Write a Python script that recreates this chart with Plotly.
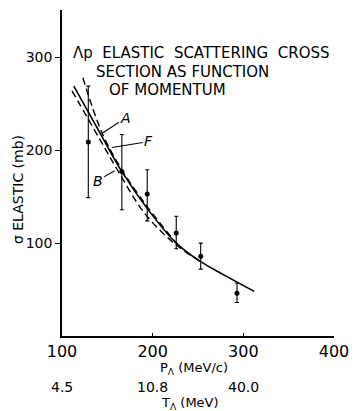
import plotly.graph_objects as go

# Data points (P_Lambda in MeV/c, sigma in mb)
p_data = [129, 166, 194, 226, 253, 293]
sigma_data = [209, 177, 153, 111, 86, 46]
err_plus = [60, 40, 26, 18, 14, 11]
err_minus = [60, 41, 29, 17, 14, 10]

# Theory curves
curve_F_x = [113, 140, 166, 195, 226, 253, 280, 312]
curve_F_y = [269, 222, 177, 136, 100, 80, 65, 48]
curve_A_x = [123, 144, 166, 195, 226]
curve_A_y = [278, 219, 179, 138, 100]
curve_B_x = [111, 141, 161, 192, 226, 253]
curve_B_y = [264, 213, 179, 131, 98, 80]

x_ticks = [100, 200, 300, 400]
y_ticks = [100, 200, 300]
t_tick_pos = [100, 200, 300]
t_tick_labels = ["4.5", "10.8", "40.0"]

FONT = "DejaVu Sans"
NB = "\u00a0"

fig = go.Figure()
fig.add_trace(go.Scatter(x=curve_F_x, y=curve_F_y, mode="lines", line=dict(color="black", width=1.6, shape="spline"), showlegend=False))
fig.add_trace(go.Scatter(x=curve_A_x, y=curve_A_y, mode="lines", line=dict(color="black", width=1.4, dash="7px,4px", shape="spline"), showlegend=False))
fig.add_trace(go.Scatter(x=curve_B_x, y=curve_B_y, mode="lines", line=dict(color="black", width=1.4, dash="7px,4px", shape="spline"), showlegend=False))
fig.add_trace(go.Scatter(
    x=p_data, y=sigma_data, mode="markers",
    marker=dict(color="black", size=5),
    error_y=dict(type="data", symmetric=False, array=err_plus, arrayminus=err_minus,
                 color="black", thickness=1.1, width=2),
    showlegend=False))

ann = []
title_lines = [("Λp" + NB * 2 + "ELASTIC" + NB * 2 + "SCATTERING" + NB * 2 + "CROSS", 71, 52.5),
               ("SECTION AS FUNCTION", 95, 71.5),
               ("OF MOMENTUM", 108, 90)]
for txt, px, py in title_lines:
    ann.append(dict(text=txt, xref="paper", yref="paper",
                    x=(px - 62) / 278.5, y=(336 - py) / 326,
                    xanchor="left", yanchor="middle", showarrow=False,
                    font=dict(family=FONT, size=15, color="black")))

# curve labels
for lab, xx, yy, ax, ay in [("A", 144, 218, 24, -16), ("F", 155, 203, 37, -6), ("B", 158, 178, -17, 10)]:
    ann.append(dict(text="<i>" + lab + "</i>", x=xx, y=yy, xref="x", yref="y",
                    showarrow=True, arrowhead=0, arrowwidth=1.1, arrowcolor="black",
                    ax=ax, ay=ay, font=dict(family=FONT, size=14, color="black")))

ann.append(dict(text="σ ELASTIC (mb)", xref="paper", yref="paper",
                x=(17 - 62) / 278.5, y=(336 - 190) / 326, textangle=-90,
                showarrow=False, xanchor="center", yanchor="middle",
                font=dict(family=FONT, size=14, color="black")))
ann.append(dict(text="P<sub>Λ</sub> (MeV/c)", xref="paper", yref="paper",
                x=(197 - 62) / 278.5, y=(336 - 368) / 326,
                showarrow=False, xanchor="center", yanchor="middle",
                font=dict(family=FONT, size=13, color="black")))
ann.append(dict(text="T<sub>Λ</sub> (MeV)", xref="paper", yref="paper",
                x=(193 - 62) / 278.5, y=(336 - 403) / 326,
                showarrow=False, xanchor="center", yanchor="middle",
                font=dict(family=FONT, size=13, color="black")))
for pos, lab in zip(t_tick_pos, t_tick_labels):
    ann.append(dict(text=lab, xref="x", yref="paper", x=pos, y=(336 - 387) / 326,
                    showarrow=False, xanchor="center", yanchor="middle",
                    font=dict(family=FONT, size=14, color="black")))

fig.update_layout(
    width=359, height=411,
    margin=dict(l=62, r=18.5, t=10, b=75),
    paper_bgcolor="white", plot_bgcolor="white",
    annotations=ann,
    xaxis=dict(range=[100, 400], tickvals=x_ticks, showgrid=False, zeroline=False,
               showline=True, linecolor="black", linewidth=1.5,
               ticks="inside", ticklen=3, tickcolor="black",
               tickfont=dict(family=FONT, size=16, color="black")),
    yaxis=dict(range=[0, 351], tickvals=y_ticks, showgrid=False, zeroline=False,
               showline=True, linecolor="black", linewidth=1.5,
               ticks="outside", ticklen=5, tickcolor="black",
               tickfont=dict(family=FONT, size=14, color="black")),
)
fig.write_html("out.html")
